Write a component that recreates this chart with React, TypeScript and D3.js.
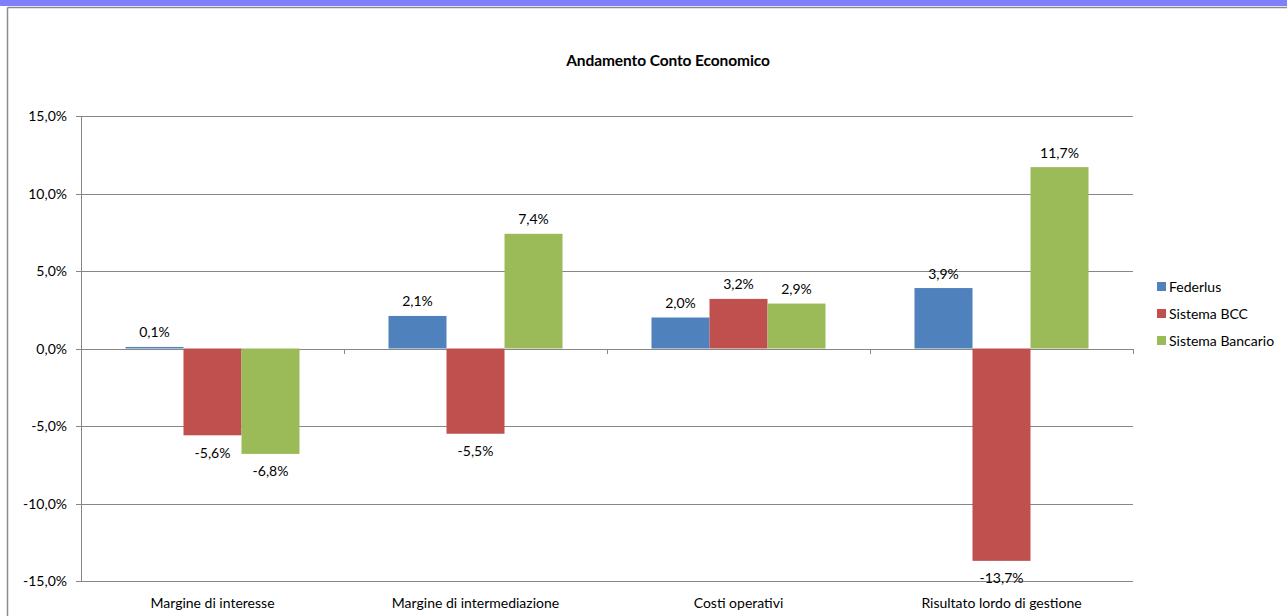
import React from "react";
import * as d3 from "d3";

const categories = ["Margine di interesse", "Margine di intermediazione", "Costi operativi", "Risultato lordo di gestione"];
const seriesNames = ["Federlus", "Sistema BCC", "Sistema Bancario"];
const federlus = [0.1, 2.1, 2.0, 3.9];
const sistemaBCC = [-5.6, -5.5, 3.2, -13.7];
const sistemaBancario = [-6.8, 7.4, 2.9, 11.7];
const colors = ["#4F81BD", "#C0504D", "#9BBB59"];
const yTicks = [15, 10, 5, 0, -5, -10, -15];

const W = 1287;
const H = 616;
const FONT = "Lato, 'Open Sans', sans-serif";

export default function App() {
  const series = [federlus, sistemaBCC, sistemaBancario];
  const x0 = d3.scaleBand<string>().domain(categories).range([81, 1133]).paddingInner(0).paddingOuter(0);
  const inner = d3.scaleBand<string>().domain(seriesNames).range([0, x0.bandwidth()]).paddingOuter(0.767).paddingInner(0);
  const y = d3.scaleLinear().domain([-15, 15]).range([581, 116]);
  const fmt = (v: number) => v.toFixed(1).replace(".", ",") + "%";

  return (
    <svg width={W} height={H} style={{ position: "absolute", left: 0, top: 0, display: "block" }}>
      <rect x={0} y={0} width={W} height={6} fill="#8080FF" />
      <line x1={7.5} y1={7.5} x2={W} y2={7.5} stroke="#8c8c8c" strokeWidth={1.5} />
      <line x1={7.5} y1={7.5} x2={7.5} y2={H} stroke="#8c8c8c" strokeWidth={1.5} />
      <text x={668} y={66} textAnchor="middle" fontFamily={FONT} fontWeight="bold" fontSize={15.5} fill="#000" letterSpacing={-0.1}>
        Andamento Conto Economico
      </text>
      {yTicks.map((t) => (
        <g key={t}>
          <line x1={76} x2={1133} y1={Math.round(y(t)) + 0.5} y2={Math.round(y(t)) + 0.5} stroke="#868686" strokeWidth={1} />
          <text x={67} y={y(t) + 5} textAnchor="end" fontFamily={FONT} fontSize={14} fill="#000">
            {fmt(t)}
          </text>
        </g>
      ))}
      <line x1={81.5} x2={81.5} y1={116} y2={581} stroke="#868686" strokeWidth={1} />
      {categories.map((c, i) => (
        <line key={"tk" + i} x1={Math.round(x0(c)! + x0.bandwidth()) + 0.5} x2={Math.round(x0(c)! + x0.bandwidth()) + 0.5} y1={349} y2={354} stroke="#868686" />
      ))}
      {categories.map((c, ci) => (
        <g key={c}>
          {series.map((s, si) => {
            const v = s[ci];
            const bx = x0(c)! + inner(seriesNames[si])!;
            const bw = inner.bandwidth();
            const top = v >= 0 ? y(v) : y(0);
            const h = Math.abs(y(v) - y(0));
            return (
              <g key={si}>
                <rect x={bx} y={top} width={bw} height={h} fill={colors[si]} />
                <text
                  x={bx + bw / 2}
                  y={v >= 0 ? y(v) - 9.5 : y(v) + 22.5}
                  textAnchor="middle"
                  fontFamily={FONT}
                  fontSize={14}
                  fill="#000"
                >
                  {fmt(v)}
                </text>
              </g>
            );
          })}
          <text x={x0(c)! + x0.bandwidth() / 2} y={608} textAnchor="middle" fontFamily={FONT} fontSize={14} fill="#000">
            {c}
          </text>
        </g>
      ))}
      {seriesNames.map((n, i) => (
        <g key={n}>
          <rect x={1157} y={282 + i * 27} width={9} height={9} fill={colors[i]} />
          <text x={1169} y={291.5 + i * 27} fontFamily={FONT} fontSize={14} fill="#000">
            {n}
          </text>
        </g>
      ))}
    </svg>
  );
}
